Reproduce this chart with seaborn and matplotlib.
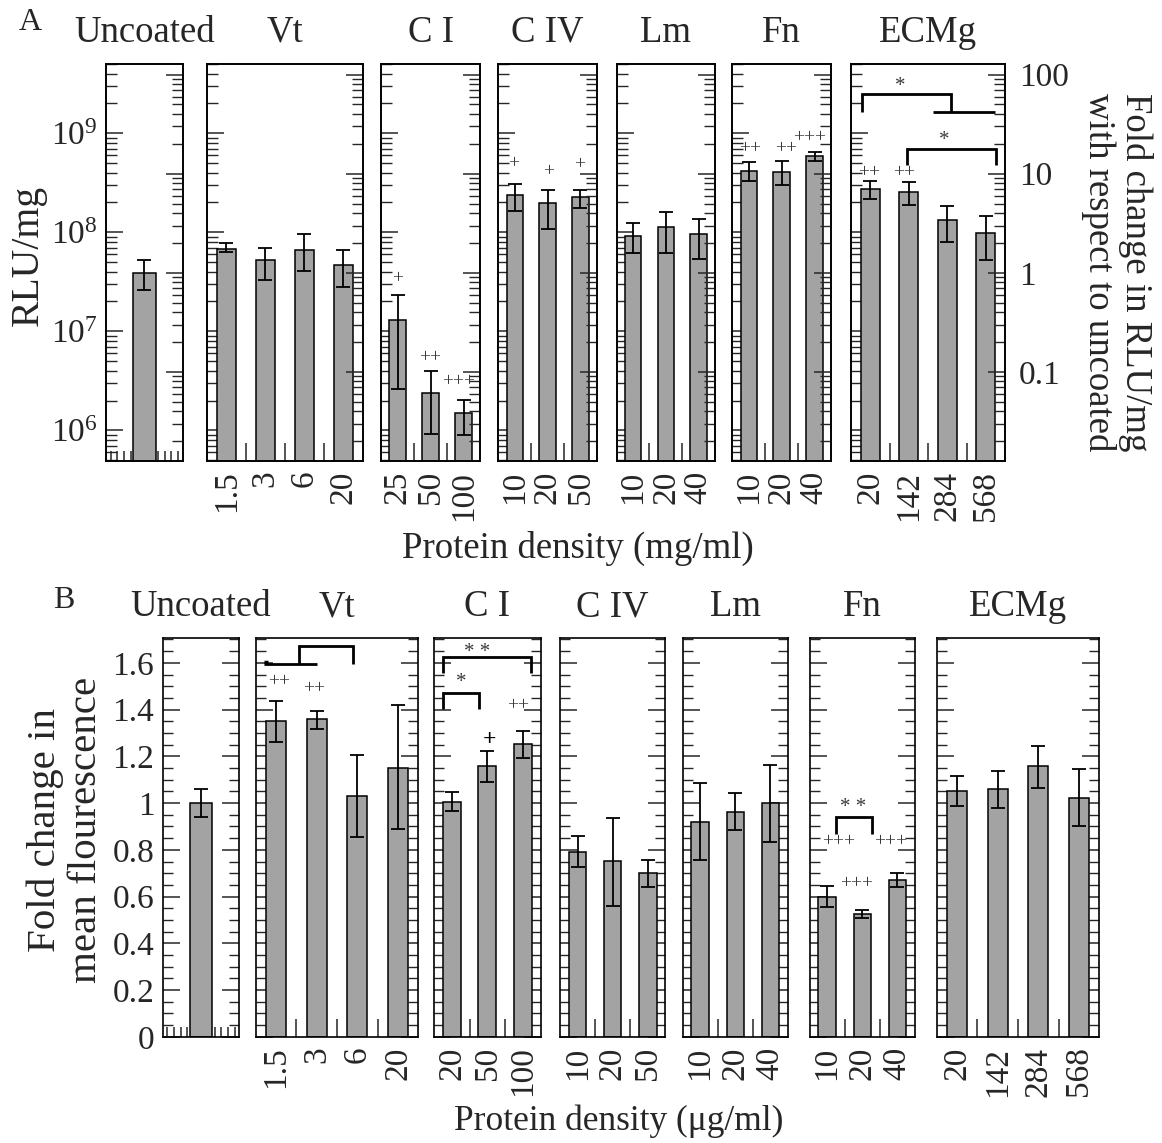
import numpy as np
import pandas as pd
import matplotlib
matplotlib.use('Agg')
import matplotlib.pyplot as plt
import seaborn as sns
from matplotlib.ticker import (LogLocator, FuncFormatter, MultipleLocator,
                               NullFormatter)

# ---------------- data : panel A (RLU/mg, log) ----------------
a_unc_lab = ['Uncoated']
a_unc_val = [3.9e7]
a_unc_lo = [2.6e7]
a_unc_hi = [5.2e7]

a_vt_lab = ['1.5', '3', '6', '20']
a_vt_val = [6.8e7, 5.2e7, 6.6e7, 4.7e7]
a_vt_lo = [6.3e7, 3.3e7, 4.1e7, 2.8e7]
a_vt_hi = [7.8e7, 7.0e7, 9.5e7, 6.6e7]

a_ci_lab = ['25', '50', '100']
a_ci_val = [1.29e7, 2.4e6, 1.48e6]
a_ci_lo = [2.6e6, 9.1e5, 8.9e5]
a_ci_hi = [2.35e7, 3.95e6, 2.04e6]

a_civ_lab = ['10', '20', '50']
a_civ_val = [2.4e8, 1.96e8, 2.25e8]
a_civ_lo = [1.65e8, 1.08e8, 1.77e8]
a_civ_hi = [3.1e8, 2.7e8, 2.65e8]

a_lm_lab = ['10', '20', '40']
a_lm_val = [9.2e7, 1.12e8, 9.5e7]
a_lm_lo = [6.2e7, 6.2e7, 5.4e7]
a_lm_hi = [1.24e8, 1.6e8, 1.36e8]

a_fn_lab = ['10', '20', '40']
a_fn_val = [4.2e8, 4.06e8, 5.85e8]
a_fn_lo = [3.3e8, 3.0e8, 5.25e8]
a_fn_hi = [5.1e8, 5.3e8, 6.5e8]

a_ecm_lab = ['20', '142', '284', '568']
a_ecm_val = [2.73e8, 2.57e8, 1.32e8, 9.8e7]
a_ecm_lo = [2.15e8, 1.88e8, 8.0e7, 5.2e7]
a_ecm_hi = [3.3e8, 3.2e8, 1.84e8, 1.46e8]

# ---------------- data : panel B (fold change, linear) ----------------
b_unc_lab = ['Uncoated']
b_unc_val = [1.0]
b_unc_lo = [0.941]
b_unc_hi = [1.059]

b_vt_lab = ['1.5', '3', '6', '20']
b_vt_val = [1.351, 1.358, 1.03, 1.151]
b_vt_lo = [1.26, 1.318, 0.853, 0.889]
b_vt_hi = [1.436, 1.395, 1.204, 1.418]

b_ci_lab = ['20', '50', '100']
b_ci_val = [1.006, 1.158, 1.254]
b_ci_lo = [0.967, 1.09, 1.194]
b_ci_hi = [1.047, 1.224, 1.309]

b_civ_lab = ['10', '20', '50']
b_civ_val = [0.792, 0.751, 0.701]
b_civ_lo = [0.725, 0.561, 0.639]
b_civ_hi = [0.859, 0.937, 0.756]

b_lm_lab = ['10', '20', '40']
b_lm_val = [0.92, 0.963, 1.0]
b_lm_lo = [0.756, 0.883, 0.835]
b_lm_hi = [1.084, 1.041, 1.164]

b_fn_lab = ['10', '20', '40']
b_fn_val = [0.598, 0.524, 0.671]
b_fn_lo = [0.554, 0.507, 0.639]
b_fn_hi = [0.646, 0.542, 0.699]

b_ecm_lab = ['20', '142', '284', '568']
b_ecm_val = [1.053, 1.06, 1.158, 1.023]
b_ecm_lo = [0.987, 0.98, 1.065, 0.902]
b_ecm_hi = [1.115, 1.138, 1.243, 1.144]

titles = ['Uncoated', 'Vt', 'C I', 'C IV', 'Lm', 'Fn', 'ECMg']

# ---------------- style ----------------
sns.set_theme(style='ticks')
plt.rcParams['font.family'] = ['Liberation Serif', 'DejaVu Serif']
plt.rcParams['mathtext.fontset'] = 'custom'
plt.rcParams['mathtext.rm'] = 'Liberation Serif'
plt.rcParams['mathtext.it'] = 'Liberation Serif:italic'
plt.rcParams['axes.linewidth'] = 1.2
plt.rcParams['axes.edgecolor'] = 'black'

BAR = '#a3a3a3'
TICK_FS = 24
TITLE_FS = 26.5

W, H = 1162, 1143
fig = plt.figure(figsize=(W / 100, H / 100), dpi=100)


def rect(x0, x1, y0, y1):
    return [x0 / W, 1 - y1 / H, (x1 - x0) / W, (y1 - y0) / H]


def draw_panel(ax, labels, vals, lo, hi, log, title, uncoated=False):
    vals = np.asarray(vals, float)
    lo = np.asarray(lo, float)
    hi = np.asarray(hi, float)
    df = pd.DataFrame({'density': labels, 'value': vals})
    sns.barplot(data=df, x='density', y='value', order=labels, ax=ax,
                color=BAR, saturation=1, edgecolor='black', linewidth=1.1,
                width=0.5, errorbar=None,
                log_scale=(False, True) if log else None)
    x = np.arange(len(vals))
    ax.errorbar(x, vals, yerr=[vals - lo, hi - vals], fmt='none',
                ecolor='black', elinewidth=1.3, capsize=5, capthick=1.3)
    ax.set_xlabel('')
    ax.set_ylabel('')
    ax.set_title(title, fontsize=TITLE_FS, pad=16)
    n = len(vals)
    ax.set_xticks(x)
    if uncoated:
        ax.set_xlim(-0.85, 0.85)
        ax.set_xticklabels([''])
        ax.set_xticks(np.arange(-0.75, 0.8, 0.15), minor=True)
        ax.tick_params(axis='x', which='minor', length=7, direction='in',
                       width=1.1, bottom=True, top=False)
    else:
        ax.set_xlim(-0.5, n - 0.5)
        ax.set_xticklabels(labels, rotation=90, fontsize=TICK_FS)
        ax.set_xticks(np.arange(n - 1) + 0.5, minor=True)
        ax.tick_params(axis='x', which='minor', length=13, direction='in',
                       width=1.1, bottom=True, top=False)
    ax.tick_params(axis='x', which='major', length=0, pad=7)
    for s in ax.spines.values():
        s.set_visible(True)
        s.set_linewidth(1.2)
        s.set_color('black')


def log_ticks(axis_obj):
    axis_obj.set_major_locator(LogLocator(base=10, numticks=20))
    axis_obj.set_minor_locator(LogLocator(base=10, subs=np.arange(2, 10), numticks=20))
    axis_obj.set_minor_formatter(NullFormatter())


def marks(ax, items, log, color='#3a3a3a', size=14, weight='normal'):
    for txt, xx, yy in items:
        ax.text(xx, 10 ** yy if log else yy, txt, ha='center', va='center',
                fontsize=size, color=color, fontweight=weight)


def bracket(ax, pts, log, lw=2.0):
    xs = [p[0] for p in pts]
    ys = [10 ** p[1] if log else p[1] for p in pts]
    ax.plot(xs, ys, color='black', lw=lw, solid_capstyle='butt',
            solid_joinstyle='miter')


# ---------------- panel A ----------------
A_Y = (64, 461)
a_x = [(106, 182.7), (207, 362.7), (381, 480), (498.3, 596.7),
       (616.7, 715), (732.3, 831), (851, 1005)]
a_data = [(a_unc_lab, a_unc_val, a_unc_lo, a_unc_hi),
          (a_vt_lab, a_vt_val, a_vt_lo, a_vt_hi),
          (a_ci_lab, a_ci_val, a_ci_lo, a_ci_hi),
          (a_civ_lab, a_civ_val, a_civ_lo, a_civ_hi),
          (a_lm_lab, a_lm_val, a_lm_lo, a_lm_hi),
          (a_fn_lab, a_fn_val, a_fn_lo, a_fn_hi),
          (a_ecm_lab, a_ecm_val, a_ecm_lo, a_ecm_hi)]
A_YLIM = (4.9e5, 5e9)
ref = a_unc_val[0]
a_axes = []
for i, ((x0, x1), (lab, v, lo, hi)) in enumerate(zip(a_x, a_data)):
    ax = fig.add_axes(rect(x0, x1, *A_Y))
    draw_panel(ax, lab, v, lo, hi, True, titles[i], uncoated=(i == 0))
    ax.set_yscale('log')
    log_ticks(ax.yaxis)
    ax.tick_params(axis='y', which='major', direction='in', length=12,
                   width=1.1, left=True, right=False, labelleft=(i == 0),
                   labelsize=TICK_FS, pad=6)
    ax.tick_params(axis='y', which='minor', direction='in', length=8,
                   width=1.0, left=True, right=False)
    a_axes.append(ax)

# annotations panel A
marks(a_axes[2], [('+', 0.0, 7.53), ('++', 1.0, 6.735), ('+++', 1.84, 6.495)], True)
marks(a_axes[3], [('+', -0.04, 8.697), ('+', 1.02, 8.612), ('+', 1.99, 8.68)], True)
marks(a_axes[5], [('++', 0.04, 8.848), ('++', 1.12, 8.848), ('+++', 1.86, 8.96)], True)
marks(a_axes[6], [('++', -0.03, 8.606), ('++', 0.88, 8.606)], True)
bracket(a_axes[6], [(-0.22, 9.218), (-0.22, 9.397), (2.11, 9.397), (2.11, 9.212)], True)
bracket(a_axes[6], [(1.63, 9.212), (3.24, 9.212)], True)
bracket(a_axes[6], [(0.95, 8.68), (0.95, 8.844), (3.27, 8.844), (3.27, 8.68)], True)
marks(a_axes[6], [('*', 0.77, 9.47), ('*', 1.92, 8.93)], True, size=15)

for i, ax in enumerate(a_axes):
    ax.set_ylim(*A_YLIM)
    tw = ax.twinx()
    tw.set_yscale('log')
    tw.set_ylim(A_YLIM[0] / ref, A_YLIM[1] / ref)
    log_ticks(tw.yaxis)
    tw.yaxis.set_major_formatter(FuncFormatter(lambda v, p: f'{v:g}'))
    tw.tick_params(axis='y', which='major', direction='in', length=12,
                   width=1.1, left=False, right=True, labelright=(i == 6),
                   labelsize=TICK_FS, pad=10)
    tw.tick_params(axis='y', which='minor', direction='in', length=8,
                   width=1.0, left=False, right=True, labelright=False)
    for s in tw.spines.values():
        s.set_linewidth(1.2)
        s.set_color('black')

# ---------------- panel B ----------------
B_Y = (638.3, 1036.8)
b_x = [(162.7, 239.3), (255.7, 418.3), (434, 540.7), (560, 665.3),
       (682.7, 788), (809.7, 915), (936.7, 1099.3)]
b_data = [(b_unc_lab, b_unc_val, b_unc_lo, b_unc_hi),
          (b_vt_lab, b_vt_val, b_vt_lo, b_vt_hi),
          (b_ci_lab, b_ci_val, b_ci_lo, b_ci_hi),
          (b_civ_lab, b_civ_val, b_civ_lo, b_civ_hi),
          (b_lm_lab, b_lm_val, b_lm_lo, b_lm_hi),
          (b_fn_lab, b_fn_val, b_fn_lo, b_fn_hi),
          (b_ecm_lab, b_ecm_val, b_ecm_lo, b_ecm_hi)]
b_axes = []
for i, ((x0, x1), (lab, v, lo, hi)) in enumerate(zip(b_x, b_data)):
    ax = fig.add_axes(rect(x0, x1, *B_Y))
    draw_panel(ax, lab, v, lo, hi, False, titles[i], uncoated=(i == 0))
    ax.yaxis.set_major_locator(MultipleLocator(0.2))
    ax.yaxis.set_minor_locator(MultipleLocator(0.05))
    ax.yaxis.set_major_formatter(FuncFormatter(lambda v, p: f'{v:.1f}'.rstrip('0').rstrip('.') if v else '0'))
    ax.tick_params(axis='y', which='major', direction='in', length=12,
                   width=1.1, left=True, right=True, labelleft=(i == 0),
                   labelsize=TICK_FS, pad=6)
    ax.tick_params(axis='y', which='minor', direction='in', length=7,
                   width=1.0, left=True, right=True)
    b_axes.append(ax)

# annotations panel B
bracket(b_axes[1], [(-0.29, 1.596), (1.0, 1.596)], False)
bracket(b_axes[1], [(-0.29, 1.603), (-0.2, 1.603)], False, lw=2.5)
bracket(b_axes[1], [(0.565, 1.596), (0.565, 1.673), (1.9, 1.673), (1.9, 1.596)], False)
marks(b_axes[1], [('++', 0.08, 1.519), ('++', 0.94, 1.488)], False)
bracket(b_axes[2], [(-0.26, 1.555), (-0.26, 1.623), (2.24, 1.623), (2.24, 1.555)], False)
bracket(b_axes[2], [(-0.26, 1.401), (-0.26, 1.472), (0.77, 1.472), (0.77, 1.401)], False)
marks(b_axes[2], [('* *', 0.7, 1.645), ('*', 0.27, 1.515)], False, size=15)
marks(b_axes[2], [('+', 1.05, 1.274)], False, color='black', size=17, weight='bold')
marks(b_axes[2], [('++', 1.87, 1.416)], False)
bracket(b_axes[5], [(0.24, 0.866), (0.24, 0.939), (1.27, 0.939), (1.27, 0.866)], False)
marks(b_axes[5], [('* *', 0.725, 0.98)], False, size=15)
marks(b_axes[5], [('+++', 0.31, 0.834), ('+++', 1.81, 0.834), ('+++', 0.83, 0.657)], False)

for ax in b_axes:
    ax.set_ylim(0, 1.705)

# ---------------- figure texts ----------------
fig.text(30 / W, 1 - 22 / H, 'A', fontsize=23, ha='center', va='center')
fig.text(64 / W, 1 - 600 / H, 'B', fontsize=23, ha='center', va='center')
fig.text(28 / W, 1 - 255 / H, 'RLU/mg', fontsize=28.5, rotation=90,
         ha='center', va='center')
fig.text(1117 / W, 1 - 272 / H, 'Fold change in RLU/mg\nwith respect to uncoated',
         fontsize=26.5, rotation=270, ha='center', va='center',
         multialignment='center', linespacing=1.1)
fig.text(66 / W, 1 - 830 / H, 'Fold change in\nmean flourescence', fontsize=29.5,
         rotation=90, ha='center', va='center', multialignment='center',
         linespacing=1.15)
fig.text(578 / W, 1 - 548 / H, 'Protein density (mg/ml)', fontsize=26.5,
         ha='center', va='center')
fig.text(619 / W, 1 - 1121 / H, 'Protein density (\u03bcg/ml)', fontsize=25.5,
         ha='center', va='center')

fig.savefig('out.png', dpi=100, facecolor='white')
